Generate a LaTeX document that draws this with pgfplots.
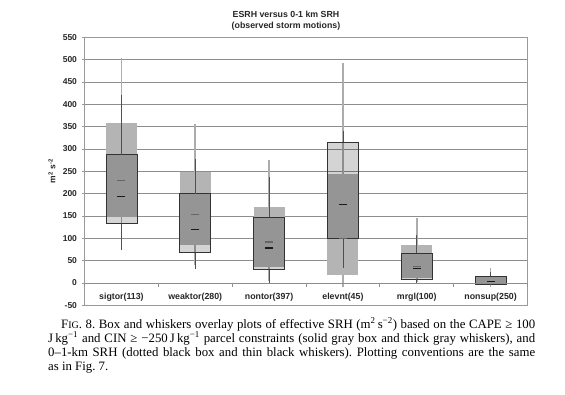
\documentclass[border=0pt]{standalone}
\usepackage{pgfplots}
\pgfplotsset{compat=1.18}
\usepackage{fontspec}
\setmainfont{Liberation Serif}
\setsansfont{Liberation Sans}
\definecolor{esrh}{HTML}{B4B4B4}
\definecolor{esrhw}{HTML}{ACACAC}
\definecolor{srhw}{HTML}{505050}
\definecolor{gridc}{HTML}{8E8E8E}
\definecolor{framec}{HTML}{9A9A9A}
\pgfplotsset{
  ebox/.style={fill=esrh, draw=none},
  sbox/.style={draw=black!80, line width=0.6pt, fill=black, fill opacity=0.17},
}
\begin{document}
\begin{tikzpicture}
\useasboundingbox (0pt,0pt) rectangle (565pt,394pt);
\begin{axis}[at={(84.5pt,88.7pt)}, anchor=south west, width=443pt, height=268pt, scale only axis,
  xmin=-0.5, xmax=5.5, ymin=-50, ymax=550,
  ytick={-50,0,...,550}, xtick=\empty,
  ymajorgrids, grid style={gridc, line width=0.8pt},
  axis line style={framec, line width=1pt},
  ytick pos=left, tick align=outside, major tick length=3pt,
  tick style={framec, line width=0.6pt},
  /pgf/number format/assume math mode=true,
  yticklabel style={font=\sffamily\bfseries\fontsize{8.5}{10}\selectfont, text=black!85, xshift=-1pt},
  unbounded coords=jump,
]
% ESRH boxes (solid gray)
\addplot[ebox] coordinates {(-0.21,148) (0.21,148) (0.21,359) (-0.21,359)} -- cycle;
\addplot[ebox] coordinates {(0.79,86) (1.21,86) (1.21,248) (0.79,248)} -- cycle;
\addplot[ebox] coordinates {(1.79,36) (2.21,36) (2.21,170) (1.79,170)} -- cycle;
\addplot[ebox] coordinates {(2.79,17) (3.21,17) (3.21,245) (2.79,245)} -- cycle;
\addplot[ebox] coordinates {(3.79,12) (4.21,12) (4.21,86) (3.79,86)} -- cycle;
\addplot[ebox] coordinates {(4.79,0) (5.21,0) (5.21,16) (4.79,16)} -- cycle;
% ESRH whiskers (thick gray)
\addplot[esrhw, line width=1.8pt] coordinates {
 (0,90) (0,148) (0,nan) (0,359) (0,504) (0,nan)
 (1,40) (1,86) (1,nan) (1,248) (1,355) (1,nan)
 (2,5) (2,36) (2,nan) (2,170) (2,275) (2,nan)
 (3,-8) (3,17) (3,nan) (3,245) (3,493) (3,nan)
 (4,2) (4,12) (4,nan) (4,86) (4,146) (4,nan)
 (5,-10) (5,0) (5,nan) (5,16) (5,34)};
% 0-1 km SRH boxes (dotted black box)
\addplot[sbox] coordinates {(-0.21,133) (0.21,133) (0.21,287) (-0.21,287)} -- cycle;
\addplot[sbox] coordinates {(0.79,68) (1.21,68) (1.21,200) (0.79,200)} -- cycle;
\addplot[sbox] coordinates {(1.79,30) (2.21,30) (2.21,148) (1.79,148)} -- cycle;
\addplot[sbox] coordinates {(2.79,99) (3.21,99) (3.21,316) (2.79,316)} -- cycle;
\addplot[sbox] coordinates {(3.79,9) (4.21,9) (4.21,66) (3.79,66)} -- cycle;
\addplot[sbox] coordinates {(4.79,-3) (5.21,-3) (5.21,15) (4.79,15)} -- cycle;
% SRH whiskers (thin black)
\addplot[srhw, line width=0.8pt] coordinates {
 (0,73) (0,133) (0,nan) (0,287) (0,420) (0,nan)
 (1,32) (1,68) (1,nan) (1,200) (1,278) (1,nan)
 (2,0) (2,30) (2,nan) (2,148) (2,237) (2,nan)
 (3,34) (3,99) (3,nan) (3,316) (3,341) (3,nan)
 (4,0) (4,9) (4,nan) (4,66) (4,108) (4,nan)
 (5,-5) (5,-3) (5,nan) (5,15) (5,25)};
% medians
\addplot[only marks, mark=-, mark size=4pt, mark options={draw=black!60, line width=1.3pt}] coordinates {(0,230) (1,154) (2,92) (3,99) (4,37)};
\addplot[only marks, mark=-, mark size=4pt, mark options={draw=black!90, line width=1.3pt}] coordinates {(0,193) (1,120) (2,78) (3,175) (4,32) (5,4)};
\end{axis}
\begin{axis}[at={(84.5pt,88.7pt)}, anchor=south west, width=443pt, height=268pt, scale only axis,
  xmin=-0.5, xmax=5.5, ymin=-50, ymax=550,
  axis x line*=middle, axis y line=none,
  axis line style={gridc, line width=0.8pt},
  xtick={-0.5,0.5,...,5.5},
  xticklabels={sigtor(113),weaktor(280),nontor(397),elevnt(45),mrgl(100),nonsup(250)},
  x tick label as interval,
  tick align=outside, major tick length=4pt,
  tick style={gridc, line width=0.7pt},
  xticklabel style={font=\sffamily\bfseries\fontsize{8.8}{10}\selectfont, text=black!85, yshift=-3pt},
]
\end{axis}
\node[font=\sffamily\bfseries\fontsize{8.8}{10.8}\selectfont, align=center, text=black!85] at (286pt,373.5pt) {ESRH versus 0-1 km SRH\\(observed storm motions)};
\node[font=\sffamily\bfseries\fontsize{8.5}{10}\selectfont, rotate=90, text=black!85] at (52pt,223pt) {m\textsuperscript{2} s\textsuperscript{-2}};
\node[anchor=base west, inner sep=0pt] at (48pt,66pt) {\parbox[t]{487pt}{\fontsize{12.8}{14}\selectfont\frenchspacing\hspace*{13pt}F{\fontsize{10}{14}\selectfont IG}. 8. Box and whiskers overlay plots of effective SRH (m\textsuperscript{2}\,s\textsuperscript{−2}) based on the CAPE ≥ 100\linebreak J\,kg\textsuperscript{−1} and CIN ≥ −250\,J\,kg\textsuperscript{−1} parcel constraints (solid gray box and thick gray whiskers), and\linebreak 0–1-km SRH (dotted black box and thin black whiskers). Plotting conventions are the same\linebreak as in Fig. 7.}};
\end{tikzpicture}
\end{document}
